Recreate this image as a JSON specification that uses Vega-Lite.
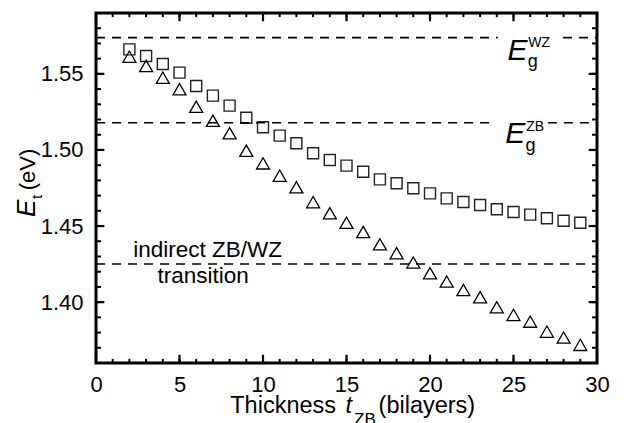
{
  "$schema": "https://vega.github.io/schema/vega-lite/v6.json",
  "width": 501,
  "height": 350,
  "autosize": {"type": "none"},
  "padding": {"left": 96, "top": 13, "right": 32, "bottom": 60},
  "background": "white",
  "config": {
    "view": {"stroke": "black", "strokeWidth": 3},
    "font": "Liberation Sans",
    "axis": {"grid": false, "domain": false, "ticks": false, "labelColor": "black", "labelFont": "Liberation Sans"}
  },
  "datasets": {
    "xminor": [{"v": 0}, {"v": 1}, {"v": 2}, {"v": 3}, {"v": 4}, {"v": 5}, {"v": 6}, {"v": 7}, {"v": 8}, {"v": 9}, {"v": 10}, {"v": 11}, {"v": 12}, {"v": 13}, {"v": 14}, {"v": 15}, {"v": 16}, {"v": 17}, {"v": 18}, {"v": 19}, {"v": 20}, {"v": 21}, {"v": 22}, {"v": 23}, {"v": 24}, {"v": 25}, {"v": 26}, {"v": 27}, {"v": 28}, {"v": 29}, {"v": 30}],
    "xmajor": [{"v": 0}, {"v": 5}, {"v": 10}, {"v": 15}, {"v": 20}, {"v": 25}, {"v": 30}],
    "yminor": [{"v": 1.36}, {"v": 1.37}, {"v": 1.38}, {"v": 1.39}, {"v": 1.40}, {"v": 1.41}, {"v": 1.42}, {"v": 1.43}, {"v": 1.44}, {"v": 1.45}, {"v": 1.46}, {"v": 1.47}, {"v": 1.48}, {"v": 1.49}, {"v": 1.50}, {"v": 1.51}, {"v": 1.52}, {"v": 1.53}, {"v": 1.54}, {"v": 1.55}, {"v": 1.56}, {"v": 1.57}, {"v": 1.58}, {"v": 1.59}],
    "ymajor": [{"v": 1.40}, {"v": 1.45}, {"v": 1.50}, {"v": 1.55}]
  },
  "resolve": {"scale": {"x": "independent", "y": "independent"}, "axis": {"x": "independent", "y": "independent"}},
  "layer": [
    {
      "data": {"values": [
        {"t": 2, "E": 1.5661}, {"t": 3, "E": 1.5617}, {"t": 4, "E": 1.5565}, {"t": 5, "E": 1.5508},
        {"t": 6, "E": 1.542}, {"t": 7, "E": 1.5357}, {"t": 8, "E": 1.5291}, {"t": 9, "E": 1.5212},
        {"t": 10, "E": 1.5149}, {"t": 11, "E": 1.5094}, {"t": 12, "E": 1.5044}, {"t": 13, "E": 1.4978},
        {"t": 14, "E": 1.4934}, {"t": 15, "E": 1.4897}, {"t": 16, "E": 1.4857}, {"t": 17, "E": 1.4807},
        {"t": 18, "E": 1.4781}, {"t": 19, "E": 1.4748}, {"t": 20, "E": 1.4715}, {"t": 21, "E": 1.4682},
        {"t": 22, "E": 1.4658}, {"t": 23, "E": 1.4638}, {"t": 24, "E": 1.461}, {"t": 25, "E": 1.4592},
        {"t": 26, "E": 1.4575}, {"t": 27, "E": 1.4551}, {"t": 28, "E": 1.4535}, {"t": 29, "E": 1.4522}
      ]},
      "mark": {"type": "point", "shape": "square", "size": 121, "filled": false, "stroke": "#222", "strokeWidth": 1.4, "opacity": 1},
      "encoding": {
        "x": {"field": "t", "type": "quantitative", "scale": {"domain": [0, 30], "nice": false, "zero": false},
          "axis": {"orient": "bottom", "values": [0, 5, 10, 15, 20, 25, 30], "labelFontSize": 22, "labelPadding": 11, "labelFlush": false, "title": null}},
        "y": {"field": "E", "type": "quantitative", "scale": {"domain": [1.36, 1.59], "nice": false, "zero": false},
          "axis": {"orient": "left", "values": [1.4, 1.45, 1.5, 1.55], "format": ".2f", "labelFontSize": 22, "labelPadding": 13, "title": null}}
      }
    },
    {
      "data": {"values": [
        {"t": 2, "E": 1.5613}, {"t": 3, "E": 1.5552}, {"t": 4, "E": 1.5475}, {"t": 5, "E": 1.5399},
        {"t": 6, "E": 1.5284}, {"t": 7, "E": 1.5192}, {"t": 8, "E": 1.511}, {"t": 9, "E": 1.4995},
        {"t": 10, "E": 1.4912}, {"t": 11, "E": 1.4831}, {"t": 12, "E": 1.4755}, {"t": 13, "E": 1.4657},
        {"t": 14, "E": 1.4584}, {"t": 15, "E": 1.4522}, {"t": 16, "E": 1.4461}, {"t": 17, "E": 1.438},
        {"t": 18, "E": 1.4321}, {"t": 19, "E": 1.426}, {"t": 20, "E": 1.419}, {"t": 21, "E": 1.4135},
        {"t": 22, "E": 1.408}, {"t": 23, "E": 1.4032}, {"t": 24, "E": 1.3966}, {"t": 25, "E": 1.3916},
        {"t": 26, "E": 1.3872}, {"t": 27, "E": 1.3806}, {"t": 28, "E": 1.3767}, {"t": 29, "E": 1.3719}
      ]},
      "mark": {"type": "point", "shape": "triangle-up", "size": 169, "filled": false, "stroke": "black", "strokeWidth": 1.3, "opacity": 1},
      "encoding": {
        "x": {"field": "t", "type": "quantitative", "scale": {"domain": [0, 30], "nice": false, "zero": false}, "axis": null},
        "y": {"field": "E", "type": "quantitative", "scale": {"domain": [1.36, 1.59], "nice": false, "zero": false}, "axis": null}
      }
    },
    {
      "data": {"values": [
        {"level": "WZ", "E": 1.5738, "from": 0, "to": 24.06},
        {"level": "WZ", "E": 1.5738, "from": 27.96, "to": 30},
        {"level": "ZB", "E": 1.5179, "from": 0, "to": 23.9},
        {"level": "ZB", "E": 1.5179, "from": 27.06, "to": 30},
        {"level": "indirect", "E": 1.4251, "from": 0, "to": 30}
      ]},
      "mark": {"type": "rule", "stroke": "black", "strokeWidth": 1.6, "strokeDash": [9, 7]},
      "encoding": {
        "x": {"field": "from", "type": "quantitative", "scale": {"domain": [0, 30], "nice": false, "zero": false}, "axis": null},
        "x2": {"field": "to"},
        "y": {"field": "E", "type": "quantitative", "scale": {"domain": [1.36, 1.59], "nice": false, "zero": false}, "axis": null}
      }
    },
    {
      "data": {"name": "xminor"},
      "mark": {"type": "rule", "stroke": "black", "strokeWidth": 2},
      "encoding": {
        "x": {"field": "v", "type": "quantitative", "scale": {"domain": [0, 30], "nice": false, "zero": false}, "axis": null},
        "y": {"datum": 1.36, "type": "quantitative", "scale": {"domain": [1.36, 1.59], "nice": false, "zero": false}, "axis": null},
        "y2": {"datum": 1.3627}
      }
    },
    {
      "data": {"name": "xminor"},
      "mark": {"type": "rule", "stroke": "black", "strokeWidth": 2},
      "encoding": {
        "x": {"field": "v", "type": "quantitative", "scale": {"domain": [0, 30], "nice": false, "zero": false}, "axis": null},
        "y": {"datum": 1.59, "type": "quantitative", "scale": {"domain": [1.36, 1.59], "nice": false, "zero": false}, "axis": null},
        "y2": {"datum": 1.5873}
      }
    },
    {
      "data": {"name": "xmajor"},
      "mark": {"type": "rule", "stroke": "black", "strokeWidth": 2.2},
      "encoding": {
        "x": {"field": "v", "type": "quantitative", "scale": {"domain": [0, 30], "nice": false, "zero": false}, "axis": null},
        "y": {"datum": 1.36, "type": "quantitative", "scale": {"domain": [1.36, 1.59], "nice": false, "zero": false}, "axis": null},
        "y2": {"datum": 1.3654}
      }
    },
    {
      "data": {"name": "xmajor"},
      "mark": {"type": "rule", "stroke": "black", "strokeWidth": 2.2},
      "encoding": {
        "x": {"field": "v", "type": "quantitative", "scale": {"domain": [0, 30], "nice": false, "zero": false}, "axis": null},
        "y": {"datum": 1.59, "type": "quantitative", "scale": {"domain": [1.36, 1.59], "nice": false, "zero": false}, "axis": null},
        "y2": {"datum": 1.5846}
      }
    },
    {
      "data": {"name": "yminor"},
      "mark": {"type": "rule", "stroke": "black", "strokeWidth": 2},
      "encoding": {
        "y": {"field": "v", "type": "quantitative", "scale": {"domain": [1.36, 1.59], "nice": false, "zero": false}, "axis": null},
        "x": {"datum": 0, "type": "quantitative", "scale": {"domain": [0, 30], "nice": false, "zero": false}, "axis": null},
        "x2": {"datum": 0.3}
      }
    },
    {
      "data": {"name": "yminor"},
      "mark": {"type": "rule", "stroke": "black", "strokeWidth": 2},
      "encoding": {
        "y": {"field": "v", "type": "quantitative", "scale": {"domain": [1.36, 1.59], "nice": false, "zero": false}, "axis": null},
        "x": {"datum": 30, "type": "quantitative", "scale": {"domain": [0, 30], "nice": false, "zero": false}, "axis": null},
        "x2": {"datum": 29.7}
      }
    },
    {
      "data": {"name": "ymajor"},
      "mark": {"type": "rule", "stroke": "black", "strokeWidth": 2.2},
      "encoding": {
        "y": {"field": "v", "type": "quantitative", "scale": {"domain": [1.36, 1.59], "nice": false, "zero": false}, "axis": null},
        "x": {"datum": 0, "type": "quantitative", "scale": {"domain": [0, 30], "nice": false, "zero": false}, "axis": null},
        "x2": {"datum": 0.5}
      }
    },
    {
      "data": {"name": "ymajor"},
      "mark": {"type": "rule", "stroke": "black", "strokeWidth": 2.2},
      "encoding": {
        "y": {"field": "v", "type": "quantitative", "scale": {"domain": [1.36, 1.59], "nice": false, "zero": false}, "axis": null},
        "x": {"datum": 30, "type": "quantitative", "scale": {"domain": [0, 30], "nice": false, "zero": false}, "axis": null},
        "x2": {"datum": 29.5}
      }
    },
    {
      "data": {"values": [
        {"label": "E", "x": 24.64, "y": 1.5591},
        {"label": "E", "x": 24.5, "y": 1.5043}
      ]},
      "mark": {"type": "text", "font": "Liberation Sans", "fontStyle": "italic", "fontSize": 30, "align": "left", "baseline": "alphabetic", "color": "black"},
      "encoding": {
        "text": {"field": "label"},
        "x": {"field": "x", "type": "quantitative", "scale": {"domain": [0, 30], "nice": false, "zero": false}, "axis": null},
        "y": {"field": "y", "type": "quantitative", "scale": {"domain": [1.36, 1.59], "nice": false, "zero": false}, "axis": null}
      }
    },
    {
      "data": {"values": [
        {"label": "WZ", "x": 25.88, "y": 1.5677},
        {"label": "ZB", "x": 25.76, "y": 1.5125}
      ]},
      "mark": {"type": "text", "font": "Liberation Sans", "fontSize": 14, "align": "left", "baseline": "alphabetic", "color": "black"},
      "encoding": {
        "text": {"field": "label"},
        "x": {"field": "x", "type": "quantitative", "scale": {"domain": [0, 30], "nice": false, "zero": false}, "axis": null},
        "y": {"field": "y", "type": "quantitative", "scale": {"domain": [1.36, 1.59], "nice": false, "zero": false}, "axis": null}
      }
    },
    {
      "data": {"values": [
        {"label": "g", "x": 25.85, "y": 1.5545},
        {"label": "g", "x": 25.72, "y": 1.4995}
      ]},
      "mark": {"type": "text", "font": "Liberation Sans", "fontSize": 18, "align": "left", "baseline": "alphabetic", "color": "black"},
      "encoding": {
        "text": {"field": "label"},
        "x": {"field": "x", "type": "quantitative", "scale": {"domain": [0, 30], "nice": false, "zero": false}, "axis": null},
        "y": {"field": "y", "type": "quantitative", "scale": {"domain": [1.36, 1.59], "nice": false, "zero": false}, "axis": null}
      }
    },
    {
      "data": {"values": [
        {"label": "indirect ZB/WZ", "x": 6.69, "y": 1.4299},
        {"label": "transition", "x": 6.42, "y": 1.4126}
      ]},
      "mark": {"type": "text", "font": "Liberation Sans", "fontSize": 22.5, "align": "center", "baseline": "alphabetic", "color": "black"},
      "encoding": {
        "text": {"field": "label"},
        "x": {"field": "x", "type": "quantitative", "scale": {"domain": [0, 30], "nice": false, "zero": false}, "axis": null},
        "y": {"field": "y", "type": "quantitative", "scale": {"domain": [1.36, 1.59], "nice": false, "zero": false}, "axis": null}
      }
    },
    {
      "data": {"values": [
        {"label": "Thickness", "x": 8.04, "y": 1.3272},
        {"label": "(bilayers)", "x": 16.92, "y": 1.3272}
      ]},
      "mark": {"type": "text", "font": "Liberation Sans", "fontSize": 23.5, "align": "left", "baseline": "alphabetic", "color": "black"},
      "encoding": {
        "text": {"field": "label"},
        "x": {"field": "x", "type": "quantitative", "scale": {"domain": [0, 30], "nice": false, "zero": false}, "axis": null},
        "y": {"field": "y", "type": "quantitative", "scale": {"domain": [1.36, 1.59], "nice": false, "zero": false}, "axis": null}
      }
    },
    {
      "data": {"values": [{"label": "t", "x": 14.94, "y": 1.3272}]},
      "mark": {"type": "text", "font": "Liberation Sans", "fontStyle": "italic", "fontSize": 23.5, "align": "left", "baseline": "alphabetic", "color": "black"},
      "encoding": {
        "text": {"field": "label"},
        "x": {"field": "x", "type": "quantitative", "scale": {"domain": [0, 30], "nice": false, "zero": false}, "axis": null},
        "y": {"field": "y", "type": "quantitative", "scale": {"domain": [1.36, 1.59], "nice": false, "zero": false}, "axis": null}
      }
    },
    {
      "data": {"values": [{"label": "ZB", "x": 15.45, "y": 1.3193}]},
      "mark": {"type": "text", "font": "Liberation Sans", "fontSize": 17, "align": "left", "baseline": "alphabetic", "color": "black"},
      "encoding": {
        "text": {"field": "label"},
        "x": {"field": "x", "type": "quantitative", "scale": {"domain": [0, 30], "nice": false, "zero": false}, "axis": null},
        "y": {"field": "y", "type": "quantitative", "scale": {"domain": [1.36, 1.59], "nice": false, "zero": false}, "axis": null}
      }
    },
    {
      "data": {"values": [{"label": "E", "x": -3.66, "y": 1.456}]},
      "mark": {"type": "text", "font": "Liberation Sans", "fontStyle": "italic", "fontSize": 26, "angle": 270, "align": "left", "baseline": "alphabetic", "color": "black"},
      "encoding": {
        "text": {"field": "label"},
        "x": {"field": "x", "type": "quantitative", "scale": {"domain": [0, 30], "nice": false, "zero": false}, "axis": null},
        "y": {"field": "y", "type": "quantitative", "scale": {"domain": [1.36, 1.59], "nice": false, "zero": false}, "axis": null}
      }
    },
    {
      "data": {"values": [{"label": "t", "x": -3.24, "y": 1.4678}]},
      "mark": {"type": "text", "font": "Liberation Sans", "fontSize": 15, "angle": 270, "align": "left", "baseline": "alphabetic", "color": "black"},
      "encoding": {
        "text": {"field": "label"},
        "x": {"field": "x", "type": "quantitative", "scale": {"domain": [0, 30], "nice": false, "zero": false}, "axis": null},
        "y": {"field": "y", "type": "quantitative", "scale": {"domain": [1.36, 1.59], "nice": false, "zero": false}, "axis": null}
      }
    },
    {
      "data": {"values": [{"label": "(eV)", "x": -3.66, "y": 1.4735}]},
      "mark": {"type": "text", "font": "Liberation Sans", "fontSize": 22, "angle": 270, "align": "left", "baseline": "alphabetic", "color": "black"},
      "encoding": {
        "text": {"field": "label"},
        "x": {"field": "x", "type": "quantitative", "scale": {"domain": [0, 30], "nice": false, "zero": false}, "axis": null},
        "y": {"field": "y", "type": "quantitative", "scale": {"domain": [1.36, 1.59], "nice": false, "zero": false}, "axis": null}
      }
    }
  ]
}
